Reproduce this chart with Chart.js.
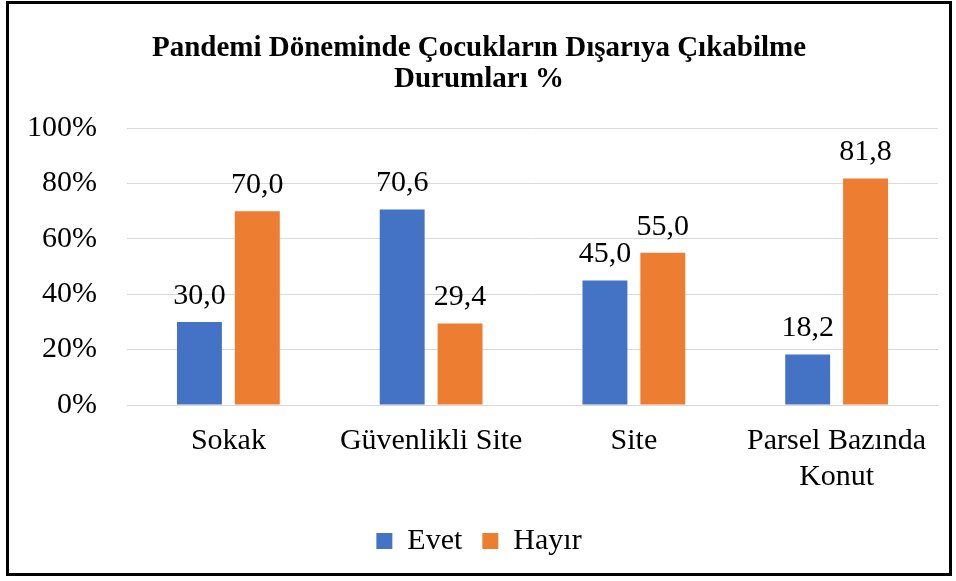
<!DOCTYPE html>
<html>
<head>
<meta charset="utf-8">
<script src="https://cdn.jsdelivr.net/npm/chart.js@4/dist/chart.umd.min.js"></script>
<style>
  html, body { margin: 0; padding: 0; background: #ffffff; }
  #wrap { position: relative; width: 956px; height: 581px; }
</style>
</head>
<body>
<div id="wrap"><canvas id="c" width="956" height="581"></canvas></div>
<script>
const categories = ['Sokak', 'Güvenlikli Site', 'Site', ['Parsel Bazında', 'Konut']];
const evet = [30.0, 70.6, 45.0, 18.2];
const hayir = [70.0, 29.4, 55.0, 81.8];
const seriesNames = ['Evet', 'Hayır'];
const titleLines = ['Pandemi Döneminde Çocukların Dışarıya Çıkabilme', 'Durumları %'];

const SERIF = '"Liberation Serif", "Times New Roman", serif';

// Values printed above each bar, with a decimal comma
const valueLabels = {
  id: 'valueLabels',
  afterDatasetsDraw(chart) {
    const ctx = chart.ctx;
    ctx.save();
    ctx.font = '30px ' + SERIF;
    ctx.fillStyle = '#000000';
    ctx.textAlign = 'center';
    ctx.textBaseline = 'bottom';
    chart.data.datasets.forEach((ds, i) => {
      chart.getDatasetMeta(i).data.forEach((bar, j) => {
        const txt = ds.data[j].toFixed(1).replace('.', ',');
        ctx.fillText(txt, bar.x, bar.y - 11);
      });
    });
    ctx.restore();
  }
};

// Outer frame of the chart
const frame = {
  id: 'frame',
  afterDraw(chart) {
    const ctx = chart.ctx;
    ctx.save();
    ctx.strokeStyle = '#000000';
    ctx.lineWidth = 3;
    ctx.strokeRect(7.5, 2.5, 943, 572);
    ctx.restore();
  }
};

Chart.defaults.font.family = SERIF;
Chart.defaults.color = '#000000';

new Chart(document.getElementById('c'), {
  type: 'bar',
  data: {
    labels: categories,
    datasets: [
      { label: seriesNames[0], data: evet, backgroundColor: '#4472C4' },
      { label: seriesNames[1], data: hayir, backgroundColor: '#ED7D31' }
    ]
  },
  options: {
    responsive: false,
    animation: false,
    layout: { padding: { top: 33, left: 20, right: 18, bottom: 15 } },
    datasets: {
      bar: { categoryPercentage: 0.571, barPercentage: 0.776 }
    },
    plugins: {
      title: {
        display: true,
        text: titleLines,
        font: { size: 29, weight: 'bold', family: SERIF, lineHeight: 1.07 },
        color: '#000000',
        padding: { top: 0, bottom: 33 }
      },
      legend: {
        position: 'bottom',
        labels: {
          font: { size: 30, family: SERIF },
          color: '#000000',
          boxWidth: 16,
          boxHeight: 16,
          padding: 20
        }
      },
      tooltip: { enabled: false }
    },
    scales: {
      x: {
        grid: { display: false, drawTicks: false },
        border: { display: true, color: '#d9d9d9', width: 1 },
        ticks: { font: { size: 30, family: SERIF, lineHeight: 1.2 }, color: '#000000', padding: 18, maxRotation: 0, autoSkip: false },
        afterFit(scale) { scale.height = 101; }
      },
      y: {
        min: 0,
        max: 100,
        grid: { color: '#d9d9d9', lineWidth: 1, drawTicks: false },
        border: { display: false },
        ticks: {
          stepSize: 20,
          padding: 30,
          font: { size: 30, family: SERIF },
          color: '#000000',
          callback: v => v + '%'
        },
        afterFit(scale) { scale.width = 107; }
      }
    }
  },
  plugins: [valueLabels, frame]
});
</script>
</body>
</html>
